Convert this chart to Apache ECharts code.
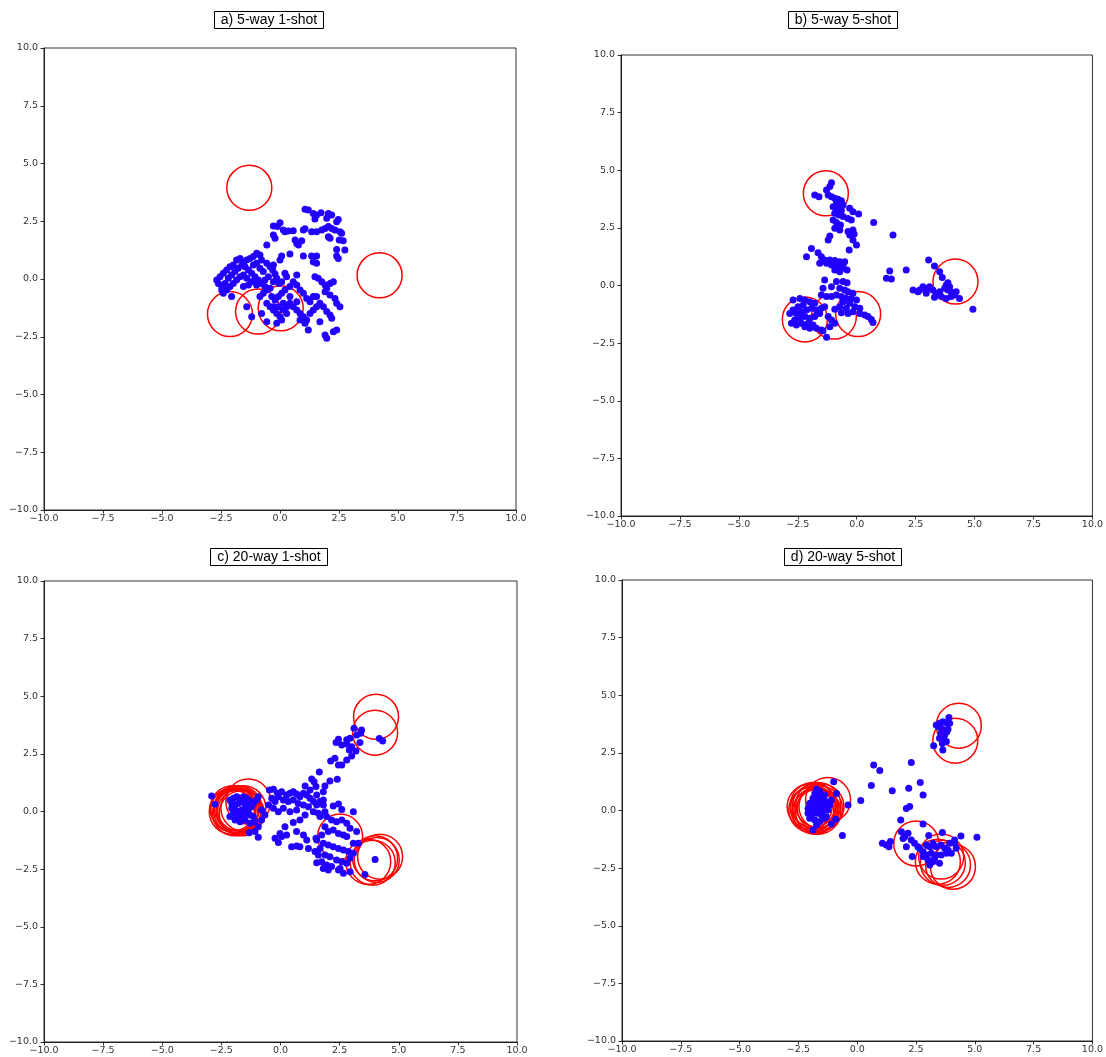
<!DOCTYPE html>
<html>
<head>
<meta charset="utf-8">
<script src="https://cdn.jsdelivr.net/npm/echarts@6/dist/echarts.min.js"></script>
<style>html,body{margin:0;padding:0;background:#fff;}#main{width:1106px;height:1057px;}</style>
</head>
<body>
<div id="main"></div>
<script>
// ---- data ----
const panelTitles = ['a) 5-way 1-shot', 'b) 5-way 5-shot', 'c) 20-way 1-shot', 'd) 20-way 5-shot'];
const tickValues = [-10, -7.5, -5, -2.5, 0, 2.5, 5, 7.5, 10];

const pointsA = [
[1.06,3.02],[1.20,2.99],[1.41,2.84],[1.55,2.77],[1.74,2.87],[2.05,2.84],[2.19,2.77],[2.47,2.58],[2.40,2.48],[1.98,2.63],[1.48,2.60],
[-0.28,2.29],[0.0,2.44],[-0.11,2.27],[0.14,2.12],[0.35,2.08],[0.56,2.09],[0.21,2.05],[0.99,2.12],[1.06,2.18],[1.34,2.05],[1.55,2.05],
[1.77,2.12],[1.91,2.19],[2.05,2.27],[2.19,2.19],[2.33,2.12],[2.54,2.05],[2.61,1.98],[2.05,1.83],[2.12,1.76],[2.51,1.69],[2.68,1.66],
[-0.28,1.90],[-0.21,1.76],[0.64,1.69],[0.71,1.54],[0.78,1.47],[0.92,1.66],[2.40,1.28],[2.75,1.26],[2.40,1.00],[2.47,0.89],[0.42,1.08],
[0.07,1.00],[0.0,0.82],[0.99,1.00],[1.34,1.00],[1.55,1.00],[1.41,0.75],[1.55,0.68],[-0.56,1.47],[-0.28,0.61],
[-0.99,1.11],[-0.85,1.04],[-1.13,0.97],[-1.27,0.89],[-1.41,0.82],[-1.55,0.75],[-1.69,0.89],[-1.84,0.82],[-1.98,0.61],[-2.12,0.53],
[-2.26,0.39],[-2.40,0.25],[-2.54,0.10],[-2.68,-0.04],[-2.61,-0.19],[-2.47,-0.33],[-2.33,-0.19],[-2.19,0.03],[-2.05,0.17],[-1.91,0.32],
[-1.77,0.46],[-1.62,0.61],[-1.48,0.53],[-1.34,0.39],[-1.20,0.25],[-1.06,0.10],[-0.92,-0.04],[-0.99,0.68],[-1.13,0.61],[-0.85,0.46],
[-0.71,0.32],[-0.78,0.82],[-0.56,0.68],[-0.42,0.53],[-0.31,0.39],[-0.21,0.22],[-0.49,0.10],[-0.64,-0.04],[-0.78,-0.19],[-0.99,-0.26],
[-1.20,-0.12],[-1.41,0.03],[-1.55,0.17],[-1.69,0.10],[-1.84,-0.04],[-1.98,-0.19],[-2.12,-0.33],[-2.26,-0.48],[-2.40,-0.62],[-2.47,-0.48],
[-2.05,-0.76],[-1.55,-0.33],[-1.34,-0.26],[-0.64,-0.33],[-0.28,-0.12],[-0.14,0.03],[-0.03,-0.19],[0.21,0.25],[0.28,0.10],[0.71,0.17],[0.07,-0.12],
[-0.85,-0.76],[-0.71,-0.62],[-0.56,-0.48],[-0.42,-0.40],[-0.35,-0.76],[-0.21,-0.91],[-0.07,-0.76],[0.07,-0.62],[0.21,-0.48],[0.42,-0.33],
[0.56,-0.12],[0.71,-0.26],[0.85,-0.48],[0.99,-0.62],[1.13,-0.84],[1.27,-0.98],[1.41,-0.76],[1.55,-0.76],[1.62,0.03],[1.48,0.10],
[1.77,-0.12],[1.91,-0.26],[1.98,-0.40],[2.12,-0.19],[2.26,-0.12],[1.91,-0.55],[2.12,-0.69],[2.33,-0.84],[2.40,-1.05],[2.54,-1.20],
[-0.56,-1.05],[-0.42,-1.20],[-0.28,-1.34],[-0.14,-1.49],[0.0,-1.63],[0.07,-1.77],[-0.14,-1.92],[-0.28,-1.20],[-0.07,-1.20],[0.14,-1.05],
[0.28,-1.20],[0.42,-1.05],[0.56,-1.20],[0.71,-1.34],[0.85,-1.49],[0.99,-1.63],[1.13,-1.77],[1.27,-1.49],[1.41,-1.34],[1.55,-1.20],
[1.69,-1.05],[1.84,-1.20],[1.98,-1.41],[2.12,-1.56],[2.19,-1.70],[0.85,-1.77],[1.06,-1.92],[1.20,-2.21],[1.69,-1.85],[1.91,-2.42],
[1.98,-2.57],[2.26,-2.28],[2.40,-2.21],[-1.41,-1.20],[-1.20,-1.63],[-0.56,-1.85],[-0.78,-1.49],[0.42,-0.76],[0.71,-0.98],[0.28,-1.49],[0.14,-1.34]
];
const centersA = [[-1.30,3.95],[4.22,0.16],[-2.12,-1.52],[-0.93,-1.41],[0.03,-1.27]];

const pointsB = [
[-1.07,4.46],[-1.14,4.29],[-1.28,4.14],[-1.78,3.93],[-1.60,3.85],[-1.21,3.93],[-1.07,3.85],[-0.93,3.78],[-0.79,3.74],[-0.65,3.68],
[-0.86,3.64],[-0.72,3.57],[-0.58,3.49],[-1.00,3.42],[-0.83,3.35],[-0.65,3.27],[-0.30,3.35],[-0.16,3.20],[0.08,3.10],[-0.93,3.13],
[-0.75,3.06],[-0.58,2.99],[-0.37,2.91],[-0.23,2.84],[-1.00,2.84],[-0.86,2.73],[-0.69,2.62],[-0.93,2.48],[-0.72,2.41],[-0.37,2.34],
[-0.16,2.41],[-0.11,2.23],[-0.30,2.19],[-1.14,2.15],[-1.21,1.97],[-0.16,1.97],[-0.01,1.76],[-0.32,1.54],[0.72,2.73],[1.54,2.19],
[-1.92,1.61],[-2.13,1.25],[-1.64,1.42],[-1.50,1.25],[-1.36,1.11],[-1.14,1.11],[-0.93,1.08],[-0.72,1.03],[-0.51,1.03],[-0.58,0.89],
[-0.86,0.82],[-1.07,0.89],[-1.28,0.96],[-1.57,0.96],[-0.65,0.74],[-0.41,0.67],[-0.72,0.60],[-0.93,0.67],
[-1.36,0.24],[-0.86,0.17],[-0.58,0.17],[-0.41,0.12],[-1.43,-0.12],[-1.07,-0.05],[-0.72,-0.12],[-0.51,-0.20],[-0.37,-0.27],[-0.16,-0.34],
[-1.50,-0.41],[-1.28,-0.48],[-1.07,-0.48],[-0.86,-0.41],[-0.65,-0.48],[-0.44,-0.56],[-0.23,-0.56],[-0.01,-0.63],[-0.58,-0.70],[-0.30,-0.77],
[-0.08,-0.92],[0.13,-0.99],[-0.44,-0.99],[-0.72,-0.92],[-0.93,-1.03],[-0.65,-1.18],[-0.37,-1.21],[-0.16,-1.14],[0.13,-1.21],[0.34,-1.28],
[0.48,-1.35],[0.62,-1.47],[0.69,-1.61],[-1.21,-1.35],[-1.07,-1.50],[-0.93,-1.64],[-1.14,-1.79],[-1.28,-2.25],[-1.43,-1.96],[-1.50,-0.99],
[-1.36,-0.92],[-1.64,-1.21],
[-2.70,-0.63],[-2.41,-0.56],[-2.20,-0.63],[-1.99,-0.70],[-1.78,-0.77],[-2.27,-0.85],[-2.49,-0.92],[-2.70,-1.06],[-2.84,-1.21],[-2.56,-1.21],
[-2.34,-1.14],[-2.13,-1.06],[-1.92,-0.99],[-1.71,-1.06],[-1.57,-1.21],[-1.78,-1.35],[-1.99,-1.42],[-2.20,-1.35],[-2.41,-1.42],[-2.63,-1.50],
[-2.77,-1.64],[-2.56,-1.71],[-2.34,-1.64],[-2.06,-1.64],[-1.85,-1.71],[-1.71,-1.86],[-1.50,-1.93],[-1.99,-1.86],[-2.20,-1.79],
[1.40,0.63],[1.26,0.31],[1.47,0.28],[2.10,0.67],[3.05,1.11],[3.30,0.85],[3.52,0.60],[3.63,0.35],
[2.39,-0.20],[2.60,-0.27],[2.81,-0.05],[2.95,-0.20],[3.09,-0.05],[3.23,-0.20],[3.37,-0.34],[3.52,-0.27],[3.73,-0.12],[3.80,0.02],
[3.87,-0.20],[4.01,-0.27],[4.15,-0.41],[4.01,-0.48],[3.80,-0.56],[3.59,-0.48],[3.30,-0.51],[4.36,-0.56],[4.93,-1.03],[3.87,0.12],
[3.94,-0.05],[4.22,-0.27],[2.67,-0.20],[2.95,-0.34]
];
const centersB = [[-1.31,4.0],[4.19,0.17],[-2.20,-1.47],[-0.97,-1.35],[0.06,-1.24]];

const pointsC = [
[3.11,3.61],[3.43,3.54],[3.22,3.32],[3.39,3.39],[2.94,3.18],[2.80,3.11],[2.45,3.13],[2.35,2.99],[2.59,2.89],[2.80,2.93],
[3.01,2.81],[2.91,2.67],[3.19,2.63],[3.36,2.99],[4.18,3.17],[4.32,3.06],[3.01,2.41],[2.80,2.23],[2.59,2.02],[2.45,2.02],
[2.30,2.31],[2.12,2.19],[1.64,1.71],[1.32,1.41],[1.42,1.29],[1.50,1.08],[2.09,1.32],[2.40,1.40],[1.88,1.11],[1.81,0.86],
[1.53,0.72],[1.25,0.93],[1.04,1.11],
[-2.91,0.67],[-2.77,0.31],[-2.14,0.50],[-1.99,0.57],[-1.85,0.64],[-1.71,0.57],[-1.57,0.64],[-1.43,0.57],[-1.29,0.47],[-1.15,0.35],
[-1.01,0.50],[-0.94,0.64],[-2.06,0.35],[-1.92,0.28],[-1.78,0.35],[-1.64,0.43],[-1.50,0.35],[-1.36,0.28],[-1.22,0.21],[-2.06,0.14],
[-1.92,0.07],[-1.78,-0.01],[-1.64,0.07],[-1.50,0.14],[-1.36,0.07],[-1.99,-0.08],[-1.85,-0.15],[-1.71,-0.22],[-1.57,-0.15],[-1.43,-0.08],
[-1.29,-0.15],[-1.15,-0.22],[-1.92,-0.37],[-1.71,-0.44],[-1.50,-0.37],[-1.29,-0.51],[-1.08,-0.44],[-0.94,-0.66],[-0.80,-0.37],[-0.66,-0.15],
[-1.32,-0.92],[-0.94,-1.12],[-1.08,-0.87],[-0.80,0.07],[-2.14,-0.22],
[-0.47,0.93],[-0.30,0.96],[-0.13,0.79],[0.05,0.86],[0.26,0.72],[0.40,0.79],[0.54,0.86],[0.68,0.76],[0.82,0.64],[0.97,0.79],
[1.11,0.72],[1.25,0.57],[1.39,0.43],[1.53,0.28],[1.67,0.43],[1.81,0.50],[-0.37,0.57],[-0.23,0.43],[-0.09,0.64],[0.12,0.50],
[0.33,0.43],[0.54,0.50],[0.75,0.35],[0.97,0.28],[1.18,0.21],[1.39,-0.01],[1.60,-0.08],[-0.51,0.28],[-0.30,0.14],[-0.09,-0.01],
[0.12,0.14],[0.40,-0.01],[0.68,0.07],[1.04,-0.15],[0.82,-0.37],[0.54,-0.48],[0.19,-0.66],[0.26,-1.02],[-0.02,-0.95],[0.05,-1.09],
[-0.23,-1.16],[-0.09,-1.35],[0.68,-0.87],[0.97,-1.02],[1.11,-1.24],[1.18,-1.60],[0.82,-1.53],[0.47,-1.53],[0.68,-1.50],[1.81,0.28],
[1.88,-0.01],[1.67,-0.22],[1.50,-1.16],
[2.23,0.24],[2.45,0.33],[2.59,0.09],[3.08,-0.01],[1.95,-0.22],[2.16,-0.37],[2.37,-0.44],[2.59,-0.37],[2.80,-0.51],[2.94,-0.73],
[3.22,-0.87],[1.88,-0.66],[2.02,-0.87],[2.23,-0.80],[2.45,-0.95],[2.66,-1.02],[2.80,-1.09],[3.08,-1.38],[3.29,-1.38],[1.74,-1.02],
[1.53,-1.24],[1.81,-1.38],[2.02,-1.45],[2.23,-1.53],[2.45,-1.60],[2.66,-1.67],[2.87,-1.74],[3.08,-1.81],[1.67,-1.60],[1.46,-1.74],
[1.60,-1.89],[1.88,-1.89],[2.09,-1.96],[2.37,-2.10],[2.59,-2.18],[2.80,-2.25],[2.94,-2.03],[1.74,-2.18],[1.95,-2.32],[2.16,-2.39],
[2.45,-2.54],[2.66,-2.68],[2.94,-2.61],[3.57,-2.73],[4.00,-2.08],[1.53,-2.22],[1.81,-2.47],[2.02,-2.54],[2.52,-2.47]
];
const centersC = [[4.04,4.11],[4.0,3.42],[-1.99,0.07],[-1.36,0.43],[-1.85,0.14],[-1.71,-0.01],[-1.92,-0.08],[-1.78,0.04],[-1.57,0.14],[-2.06,-0.01],
[-1.64,-0.08],[-1.88,0.04],[-1.74,0.14],[-2.02,0.14],[2.52,-1.09],[3.71,-2.18],[4.0,-2.03],[4.21,-1.96],[3.9,-2.22],[4.07,-2.10]];

const pointsD = [
[3.36,3.71],[3.50,3.78],[3.64,3.85],[3.79,3.81],[3.93,3.78],[3.90,4.04],[3.57,3.57],[3.72,3.49],[3.86,3.52],[3.57,3.35],
[3.72,3.28],[3.50,3.13],[3.64,3.03],[3.79,2.99],[3.62,2.91],[3.25,2.81],[3.64,2.62],[3.43,3.64],[3.81,3.42],
[-1.73,0.92],[-1.59,0.82],[-1.80,0.74],[-1.66,0.67],[-1.52,0.60],[-1.38,0.67],[-1.88,0.53],[-1.73,0.46],[-1.59,0.38],[-1.45,0.46],
[-1.31,0.38],[-1.10,0.46],[-2.02,0.31],[-1.88,0.24],[-1.73,0.24],[-1.52,0.24],[-1.31,0.17],[-1.17,0.24],[-2.09,0.09],[-1.95,0.02],
[-1.80,0.05],[-1.66,0.09],[-1.45,-0.01],[-1.24,0.02],[-2.09,-0.12],[-1.95,-0.20],[-1.73,-0.12],[-1.52,-0.20],[-1.31,-0.27],[-2.02,-0.34],
[-1.80,-0.41],[-1.59,-0.48],[-1.38,-0.34],[-1.73,-0.63],[-1.88,-0.85],[-1.10,-0.59],[-0.91,-0.38],[-1.00,1.25],[-0.88,0.74],[-0.39,0.24],
[-0.63,-1.08],
[0.70,1.97],[0.96,1.73],[0.60,1.08],[0.15,0.43],[1.49,0.86],[2.19,0.96],[2.30,2.08],[2.68,1.22],[2.80,0.67],[2.09,0.09],
[2.23,0.17],[1.85,-0.41],[2.80,-0.59],[3.62,-0.95],[4.41,-1.11],[5.09,-1.16],[3.04,-1.09],
[1.07,-1.42],[1.24,-1.50],[1.41,-1.35],[1.35,-1.57],[1.88,-0.92],[2.02,-1.14],[2.16,-0.99],[1.95,-1.21],[2.30,-1.28],[2.44,-1.42],
[2.58,-1.57],[2.09,-1.57],[2.34,-2.0],[2.65,-1.64],[2.80,-1.79],[2.94,-1.50],[3.08,-1.57],[3.22,-1.42],[3.36,-1.57],[3.57,-1.50],
[3.72,-1.64],[3.86,-1.71],[4.0,-1.86],[4.14,-1.42],[4.21,-1.64],[3.79,-1.86],[3.57,-1.93],[3.36,-1.93],[3.15,-1.86],[2.94,-1.93],
[2.80,-2.0],[3.01,-2.15],[3.22,-2.22],[3.08,-2.36],[3.50,-2.29],[3.29,-2.08],[3.93,-1.42],[4.14,-1.28]
];
const centersD = [[4.32,3.68],[4.17,3.03],[-1.24,0.46],[-1.88,0.09],[-1.80,0.17],[-1.73,0.02],[-1.66,0.24],[-1.95,0.02],[-1.59,0.09],[-2.02,0.17],
[-1.80,-0.05],[-1.52,0.17],[-1.88,0.24],[-1.66,-0.05],[2.51,-1.43],[3.43,-2.22],[3.64,-2.27],[3.86,-2.36],[4.07,-2.44],[3.57,-2.0]];

// ---- layout ----
const grids = [
  {left: 44, top: 48, width: 472, height: 462},
  {left: 621, top: 55, width: 472, height: 461},
  {left: 44, top: 581, width: 473, height: 461},
  {left: 622, top: 580, width: 471, height: 461}
];
const titlePos = [[262, 11], [836, 11], [262, 548], [836, 548]];
const allPoints = [pointsA, pointsB, pointsC, pointsD];
const allCenters = [centersA, centersB, centersC, centersD];

function fmt(v) {
  const s = v.toFixed(1);
  return s.replace('-', '\u2212');
}

const axisCommon = {
  type: 'value', min: -10, max: 10, interval: 2.5,
  axisLine: {show: true, onZero: false, lineStyle: {color: '#000', width: 0.8}},
  axisTick: {show: true, inside: false, length: 3.5, lineStyle: {color: '#000', width: 0.8}},
  splitLine: {show: false},
  axisLabel: {fontSize: 9.5, color: '#333', fontFamily: 'DejaVu Sans', formatter: fmt, showMinLabel: true, showMaxLabel: true}
};

const option = {
  animation: false,
  backgroundColor: '#fff',
  title: panelTitles.map((t, i) => ({
    text: t, left: titlePos[i][0], top: titlePos[i][1], textAlign: 'center',
    borderColor: '#000', borderWidth: 1, padding: [1, 7],
    textStyle: {fontSize: 14, fontWeight: 'normal', color: '#000', fontFamily: 'Liberation Sans', lineHeight: 16}
  })),
  grid: grids.map(g => Object.assign({show: true, borderColor: '#000', borderWidth: 0.8, backgroundColor: 'transparent'}, g)),
  xAxis: grids.map((g, i) => Object.assign({}, axisCommon, {gridIndex: i, position: 'bottom',
    axisLabel: Object.assign({}, axisCommon.axisLabel, {margin: 4})})),
  yAxis: grids.map((g, i) => Object.assign({}, axisCommon, {gridIndex: i, position: 'left',
    axisLabel: Object.assign({}, axisCommon.axisLabel, {margin: 6})})),
  series: []
};

for (let i = 0; i < 4; i++) {
  option.series.push({
    type: 'scatter', xAxisIndex: i, yAxisIndex: i, silent: true, z: 2,
    symbol: 'circle', symbolSize: 45,
    itemStyle: {color: 'rgba(0,0,0,0)', borderColor: '#ff0000', borderWidth: 1.5, opacity: 1},
    data: allCenters[i]
  });
  option.series.push({
    type: 'scatter', xAxisIndex: i, yAxisIndex: i, silent: true, z: 3,
    symbol: 'circle', symbolSize: 7,
    itemStyle: {color: '#2200ff', opacity: 1},
    data: allPoints[i]
  });
}

const chart = echarts.init(document.getElementById('main'), null, {renderer: 'canvas'});
chart.setOption(option);
</script>
</body>
</html>
